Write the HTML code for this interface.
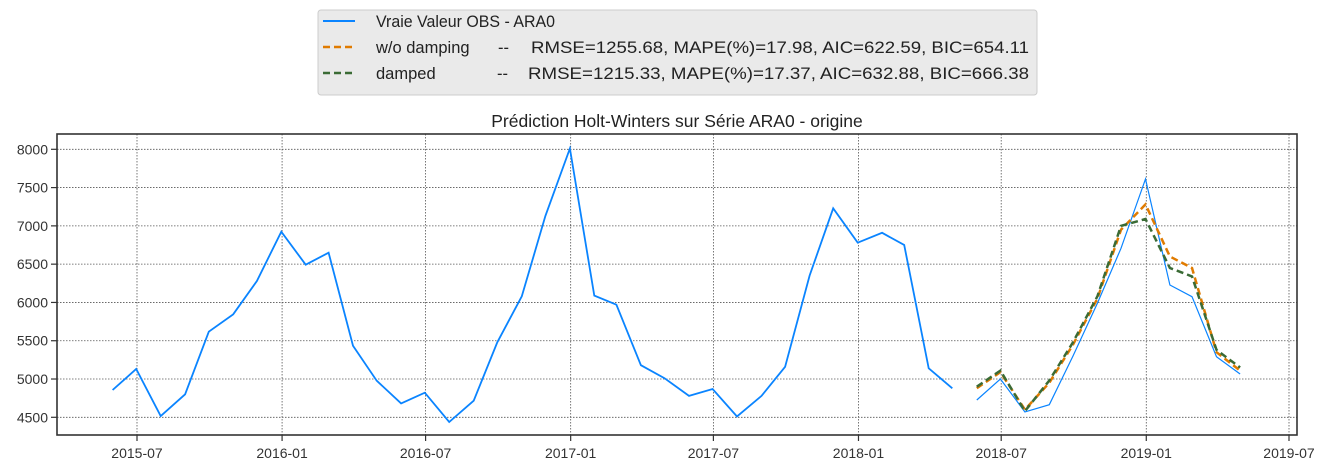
<!DOCTYPE html>
<html><head><meta charset="utf-8"><style>
html,body{margin:0;padding:0;background:#fff;}
svg{display:block;font-family:"Liberation Sans",sans-serif;}
</style></head><body>
<svg id="chart" width="1327" height="473" viewBox="0 0 1327 473">
<g id="grid"></g>
<g id="series"></g>
<rect x="57" y="134" width="1240" height="301" fill="none" stroke="#333" stroke-width="1.6"/>
<g id="axes"></g>
<text x="677" y="127" text-anchor="middle" font-size="17.5" fill="#222">Prédiction Holt-Winters sur Série ARA0 - origine</text>
<g>
<rect x="318" y="10" width="719" height="85" rx="3" fill="#eaeaea" stroke="#ccc"/>
<g>
<line x1="323" y1="21" x2="355" y2="21" stroke="#0a84ff" stroke-width="2"/>
<text x="376" y="27" font-size="16.5" fill="#222" textLength="179" lengthAdjust="spacingAndGlyphs">Vraie Valeur OBS - ARA0</text></g>
<g>
<line x1="323" y1="47" x2="355" y2="47" stroke="#e07b00" stroke-width="2.5" stroke-dasharray="7,4"/>
<text x="376" y="53" font-size="16.5" fill="#222">w/o damping</text>
<text x="498" y="53" font-size="16.5" fill="#222">--</text>
<text x="531" y="53" font-size="16.5" fill="#222" textLength="498" lengthAdjust="spacingAndGlyphs">RMSE=1255.68,  MAPE(%)=17.98,  AIC=622.59,  BIC=654.11</text></g>
<g>
<line x1="323" y1="73" x2="355" y2="73" stroke="#3a6b35" stroke-width="2.5" stroke-dasharray="7,4"/>
<text x="376" y="79" font-size="16.5" fill="#222">damped</text>
<text x="497" y="79" font-size="16.5" fill="#222">--</text>
<text x="528" y="79" font-size="16.5" fill="#222" textLength="501" lengthAdjust="spacingAndGlyphs">RMSE=1215.33,  MAPE(%)=17.37,  AIC=632.88,  BIC=666.38</text></g>
</g>
</svg>
<script>
const obsStart = [2015, 5];
const observedHist = [4856,5131,4517,4800,5618,5845,6280,6924,6493,6650,5435,4978,4682,4821,4439,4717,5480,6080,7130,8010,6090,5970,5180,5010,4780,4870,4510,4780,5160,6350,7230,6780,6910,6750,5140,4879];
const fcStart = [2018, 5];
const observedTest = [4726,5000,4570,4665,5300,5990,6707,7612,6228,6075,5292,5066];
const noDamping = [4880,5090,4600,4950,5450,6050,6950,7280,6600,6450,5350,5110];
const damped = [4900,5110,4580,4980,5480,6080,7000,7090,6450,6340,5380,5150];
const yTicks = [4500,5000,5500,6000,6500,7000,7500,8000];
const xTickLabels = ["2015-07","2016-01","2016-07","2017-01","2017-07","2018-01","2018-07","2019-01","2019-07"];

const NS="http://www.w3.org/2000/svg";
const t0=Date.UTC(2015,6,1), t1=Date.UTC(2019,6,1);
function xs(ms){return 137+(ms-t0)/(t1-t0)*(1289-137);}
function ys(v){return 149.3+(8000-v)*(417.3-149.3)/3500;}
function monthEnd(y,m,i){return Date.UTC(y,m-1+i+1,0);}
function mk(tag,attrs,parent){const e=document.createElementNS(NS,tag);for(const k in attrs)e.setAttribute(k,attrs[k]);parent.appendChild(e);return e;}
const grid=document.getElementById('grid'),axes=document.getElementById('axes'),series=document.getElementById('series');
yTicks.forEach(v=>{const y=ys(v);
 const g=mk('line',{x1:57,x2:1297,y1:y,y2:y,stroke:'#555','stroke-width':0.8,'stroke-dasharray':'1.5,1.5'},grid);
 
 
 mk('line',{x1:51,x2:57,y1:y,y2:y,stroke:'#333','stroke-width':1.2},axes);
 const t=mk('text',{x:48,y:y+5,'text-anchor':'end','font-size':14,fill:'#333'},axes);t.textContent=v;
 
 
});
xTickLabels.forEach(s=>{const [yy,mm]=s.split('-').map(Number);const x=xs(Date.UTC(yy,mm-1,1));
 const g=mk('line',{x1:x,x2:x,y1:134,y2:435,stroke:'#555','stroke-width':0.8,'stroke-dasharray':'1.5,1.5'},grid);
 
 
 mk('line',{x1:x,x2:x,y1:435,y2:441,stroke:'#333','stroke-width':1.2},axes);
 const t=mk('text',{x:x,y:458,'text-anchor':'middle','font-size':14,fill:'#333'},axes);t.textContent=s;
 
 
});
function pts(arr,st){return arr.map((v,i)=>xs(monthEnd(st[0],st[1],i)).toFixed(1)+','+ys(v).toFixed(1)).join(' ');}
let p=mk('polyline',{points:pts(observedHist,obsStart),fill:'none',stroke:'#0a84ff','stroke-width':1.8},series);


p=mk('polyline',{points:pts(observedTest,fcStart),fill:'none',stroke:'#0a84ff','stroke-width':1.2},series);


p=mk('polyline',{points:pts(noDamping,fcStart),fill:'none',stroke:'#e07b00','stroke-width':2.5,'stroke-dasharray':'7,4'},series);


p=mk('polyline',{points:pts(damped,fcStart),fill:'none',stroke:'#3a6b35','stroke-width':2.5,'stroke-dasharray':'7,4'},series);


</script>
</body></html>
